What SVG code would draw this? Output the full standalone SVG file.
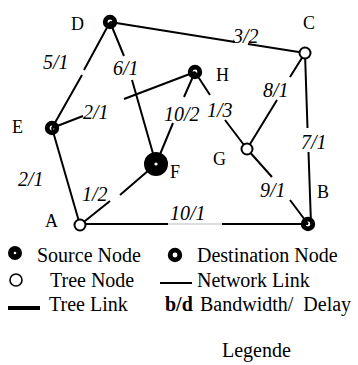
<svg xmlns="http://www.w3.org/2000/svg" width="358" height="365" viewBox="0 0 358 365">
  <style>
    .link { stroke: #000; stroke-width: 2; fill: none; }
    .thin { stroke: #bbb; stroke-width: 1; fill: none; }
    .dest { fill: none; stroke: #000; stroke-width: 4.8; }
    .tree { fill: #fff; stroke: #000; stroke-width: 2; }
    .src { fill: #000; }
    .hole { fill: #fff; }
    text { font-family: 'Liberation Serif', 'DejaVu Serif', serif; fill: #000; }
    .name { font-size: 18px; }
    .bw { font-size: 20px; font-style: italic; }
    .leg { font-size: 20px; }
  </style>
  <rect width="358" height="365" fill="#fff"/>

  <!-- links, broken where the bandwidth/delay label sits -->
  <g id="connectors">
    <path class="link" d="M110 22 L235 42 M248 44 L305 53"/>
    <path class="link" d="M110 22 L84 70 M82 75 L52 128"/>
    <path class="link" d="M110 22 L124 56 M132 80 L156 164"/>
    <path class="link" d="M52 128 L83 116 M124 99 L195 72"/>
    <path class="link" d="M195 72 L184 97 M173 123 L156 164"/>
    <path class="link" d="M195 72 L210 95 M225 120 L247 149"/>
    <path class="link" d="M305 53 L290 77 M277 100 L247 149"/>
    <path class="link" d="M305 53 L307.5 128 M308.5 152 L311 224"/>
    <path class="link" d="M247 149 L272 177 M290 200 L308 224"/>
    <path class="link" d="M52 128 L80 225"/>
    <path class="link" d="M80 225 L110 201 M120 195 L156 164"/>
    <path class="link" d="M80 224 L168 224 M222 224 L308 224"/>
    <path class="thin" d="M168 224 L222 224"/>
  </g>

  <!-- labels on links -->
  <g id="link-labels">
    <text class="bw" x="233" y="43">3/2</text>
    <text class="bw" x="43" y="69">5/1</text>
    <text class="bw" x="113" y="75">6/1</text>
    <text class="bw" x="83" y="119">2/1</text>
    <text class="bw" x="164" y="121">10/2</text>
    <text class="bw" x="207" y="117">1/3</text>
    <text class="bw" x="263" y="97">8/1</text>
    <text class="bw" x="301" y="149">7/1</text>
    <text class="bw" x="260" y="197">9/1</text>
    <text class="bw" x="18" y="186">2/1</text>
    <text class="bw" x="82" y="201">1/2</text>
    <text class="bw" x="170" y="220">10/1</text>
  </g>

  <!-- nodes -->
  <g id="node-D"><circle class="dest" cx="110" cy="22" r="4.8"/><text class="name" x="71" y="30">D</text></g>
  <g id="node-C"><circle class="tree" cx="305" cy="53" r="5.5"/><text class="name" x="303" y="29">C</text></g>
  <g id="node-H"><circle class="dest" cx="195" cy="72" r="4.8"/><text class="name" x="216" y="81">H</text></g>
  <g id="node-E"><circle class="dest" cx="52" cy="128" r="4.8"/><text class="name" x="12" y="133">E</text></g>
  <g id="node-F"><circle class="src" cx="156" cy="164" r="12"/><circle class="hole" cx="156" cy="164" r="1.6"/><text class="name" x="170" y="178">F</text></g>
  <g id="node-G"><circle class="tree" cx="247" cy="149" r="5.5"/><text class="name" x="213" y="165">G</text></g>
  <g id="node-A"><circle class="tree" cx="80" cy="225" r="5.5"/><text class="name" x="45" y="227">A</text></g>
  <g id="node-B"><circle class="dest" cx="308" cy="224" r="4.8"/><text class="name" x="317" y="198">B</text></g>

  <!-- legend -->
  <g id="legend">
    <circle class="src" cx="15" cy="253" r="7"/><circle class="hole" cx="15" cy="253" r="1.3"/>
    <text class="leg" x="37" y="262">Source Node</text>
    <circle class="dest" cx="175" cy="255" r="4.8"/>
    <text class="leg" x="197" y="262">Destination Node</text>
    <circle fill="#fff" stroke="#000" stroke-width="1.6" cx="16" cy="280" r="6"/>
    <text class="leg" x="50" y="287">Tree Node</text>
    <line class="link" x1="160" y1="283" x2="192" y2="283" stroke-width="1.5"/>
    <text class="leg" x="197" y="287">Network Link</text>
    <line x1="8" y1="308" x2="40" y2="308" stroke="#000" stroke-width="4"/>
    <text class="leg" x="49" y="311">Tree Link</text>
    <text class="leg" x="165" y="311" font-weight="bold">b/d</text>
    <text class="leg" x="200" y="311" xml:space="preserve">Bandwidth/  Delay</text>
    <text class="leg" x="222" y="357">Legende</text>
  </g>
</svg>
